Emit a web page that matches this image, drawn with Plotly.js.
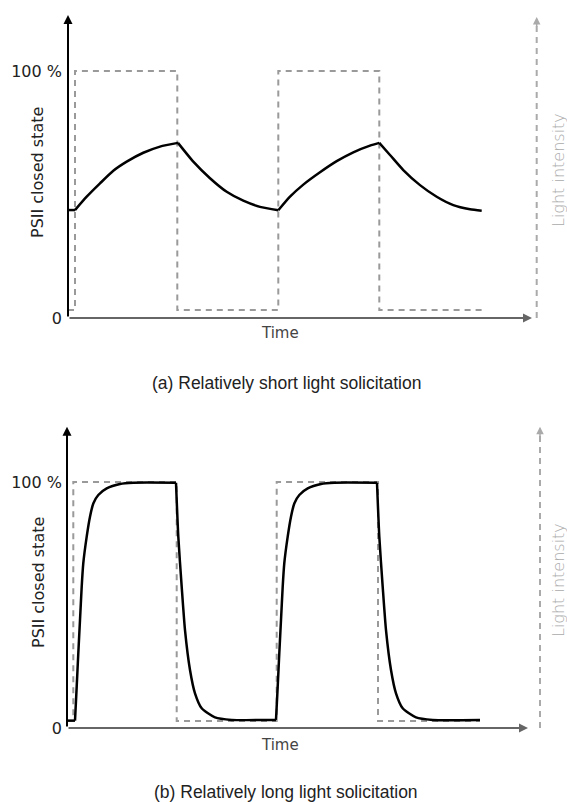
<!DOCTYPE html>
<html>
<head>
<meta charset="utf-8">
<script src="https://cdn.plot.ly/plotly-3.0.1.min.js"></script>
<style>html,body{margin:0;padding:0;background:#fff;}#chart{width:567px;height:802px;}</style>
</head>
<body>
<div id="chart"></div>
<script>
// (a) short light solicitation
var timeA  = [0, 0.07, 0.187, 0.32, 0.453, 0.587, 0.753, 0.92, 1.10, 1.253, 1.42, 1.587, 1.753, 1.92, 2.103, 2.22, 2.353, 2.52, 2.687, 2.853, 3.02, 3.113, 3.22, 3.353, 3.52, 3.687, 3.853, 4.02, 4.137];
var psiiA  = [43.7, 43.7, 49.1, 54.5, 59.6, 63.3, 66.9, 69.4, 70.9, 63.3, 56.6, 51.1, 47.5, 45.0, 43.6, 49.1, 54.0, 59.0, 63.5, 67.1, 69.8, 70.9, 66.0, 59.9, 53.8, 49.1, 45.7, 44.0, 43.4];
var lightTimeA = [0, 0.07, 0.07, 1.093, 1.093, 2.103, 2.103, 3.113, 3.113, 4.137];
var lightA     = [3.2, 3.2, 100, 100, 3.2, 3.2, 100, 100, 3.2, 3.2];
// indices where the curve changes phase (light switched)
var breaksA = [0, 1, 8, 14, 21, 28];

// (b) long light solicitation
var timeB  = [0, 0.07, 0.087, 0.103, 0.12, 0.137, 0.153, 0.187, 0.22, 0.253, 0.303, 0.387, 0.52, 0.653, 1.08, 1.103, 1.137, 1.17, 1.22, 1.27, 1.337, 1.47, 1.637, 2.08, 2.097, 2.113, 2.13, 2.147, 2.163, 2.197, 2.23, 2.263, 2.313, 2.397, 2.53, 2.663, 3.09, 3.113, 3.147, 3.18, 3.23, 3.28, 3.347, 3.48, 3.647, 4.12];
var psiiB  = [3.0, 3.0, 16.8, 30.4, 43.9, 57.4, 67.0, 77.8, 85.9, 91.3, 94.7, 97.4, 99.2, 99.7, 99.7, 77.8, 57.4, 39.8, 23.6, 14.1, 8.0, 4.3, 3.3, 3.3, 16.8, 30.4, 43.9, 57.4, 67.0, 77.8, 85.9, 91.3, 94.7, 97.4, 99.2, 99.7, 99.7, 77.8, 57.4, 39.8, 23.6, 14.1, 8.0, 4.3, 3.3, 3.3];
var lightTimeB = [0, 0.053, 0.053, 1.087, 1.087, 2.087, 2.087, 3.10, 3.10, 4.12];
var lightB     = [2.85, 2.85, 100, 100, 2.85, 2.85, 100, 100, 2.85, 2.85];
var breaksB = [0, 1, 14, 23, 36, 45];

var tickVals = [0, 100];
var tickText = ['0', '100 %'];
var yTitle = 'PSII closed state';
var xTitle = 'Time';
var rTitle = 'Light intensity';
var captionA = '(a) Relatively short light solicitation';
var captionB = '(b) Relatively long light solicitation';

var W = 567, H = 802;
function px(x){ return x / W; }
function py(y){ return 1 - y / H; }

var lightStyle = {color: '#9a9a9a', width: 2, dash: '6px,5px'};

var traces = [
  {x: lightTimeA, y: lightA, xaxis: 'x', yaxis: 'y', mode: 'lines', line: lightStyle, hoverinfo: 'skip'},
  {x: lightTimeB, y: lightB, xaxis: 'x', yaxis: 'y2', mode: 'lines', line: lightStyle, hoverinfo: 'skip'}
];

function addCurve(t, v, breaks, yaxis){
  for (var i = 0; i < breaks.length - 1; i++){
    var a = breaks[i], b = breaks[i + 1];
    traces.push({
      x: t.slice(a, b + 1), y: v.slice(a, b + 1), xaxis: 'x', yaxis: yaxis, mode: 'lines',
      line: {color: '#000', width: 2.5, shape: 'spline', smoothing: 0.6}, hoverinfo: 'skip'
    });
  }
}
addCurve(timeA, psiiA, breaksA, 'y');
addCurve(timeB, psiiB, breaksB, 'y2');

var yCommon = {
  anchor: 'free', position: 68 / W, showline: false, showgrid: false, zeroline: false,
  tickmode: 'array', tickvals: tickVals, ticktext: tickText, ticks: '',
  ticklabelstandoff: 6,
  tickfont: {family: 'DejaVu Sans', size: 16, color: '#222'}
};

var yA = Object.assign({}, yCommon, {domain: [py(340), py(0)], range: [-22 / 2.47, 318 / 2.47]});
var yB = Object.assign({}, yCommon, {domain: [py(750), py(410)], range: [-22 / 2.46, 318 / 2.46]});

function arrowAnn(yref, x, y, ax, ay, color, width, size){
  return {xref: 'x', yref: yref, axref: 'x', ayref: yref, x: x, y: y, ax: ax, ay: ay,
          text: '', showarrow: true, arrowhead: 2, arrowsize: size, arrowwidth: width, arrowcolor: color};
}

var annotations = [
  arrowAnn('y', 0, 122.7, 0, 0, '#000', 2, 0.9),
  arrowAnn('y', 4.64, 0, 0, 0, '#666', 2, 0.9),
  arrowAnn('y', 4.687, 121.9, 4.687, 117.5, '#aaa', 1.5, 1),
  arrowAnn('y2', -0.01, 122.5, -0.01, 0, '#000', 2, 0.9),
  arrowAnn('y2', 4.60, 0, -0.01, 0, '#666', 2, 0.9),
  arrowAnn('y2', 4.72, 122.5, 4.72, 118, '#aaa', 1.5, 1),
  {xref: 'paper', yref: 'paper', x: px(38), y: py(173), text: yTitle, showarrow: false, textangle: -90,
   xanchor: 'center', yanchor: 'middle', font: {family: 'DejaVu Sans', size: 16, color: '#222'}},
  {xref: 'paper', yref: 'paper', x: px(38), y: py(583), text: yTitle, showarrow: false, textangle: -90,
   xanchor: 'center', yanchor: 'middle', font: {family: 'DejaVu Sans', size: 16, color: '#222'}},
  {xref: 'paper', yref: 'paper', x: px(280), y: py(333), text: xTitle, showarrow: false,
   xanchor: 'center', yanchor: 'middle', font: {family: 'DejaVu Sans', size: 15, color: '#444'}},
  {xref: 'paper', yref: 'paper', x: px(280), y: py(745), text: xTitle, showarrow: false,
   xanchor: 'center', yanchor: 'middle', font: {family: 'DejaVu Sans', size: 15, color: '#444'}},
  {xref: 'paper', yref: 'paper', x: px(558), y: py(170), text: rTitle, showarrow: false, textangle: -90,
   xanchor: 'center', yanchor: 'middle', font: {family: 'DejaVu Sans', size: 16, color: '#aaa', weight: 200}},
  {xref: 'paper', yref: 'paper', x: px(558), y: py(580), text: rTitle, showarrow: false, textangle: -90,
   xanchor: 'center', yanchor: 'middle', font: {family: 'DejaVu Sans', size: 16, color: '#aaa', weight: 200}},
  {xref: 'paper', yref: 'paper', x: px(286), y: py(383), text: captionA, showarrow: false,
   xanchor: 'center', yanchor: 'middle', font: {family: 'Liberation Sans', size: 17.5, color: '#222'}},
  {xref: 'paper', yref: 'paper', x: px(286), y: py(792), text: captionB, showarrow: false,
   xanchor: 'center', yanchor: 'middle', font: {family: 'Liberation Sans', size: 17.5, color: '#222'}}
];

var shapes = [
  {type: 'line', xref: 'x', yref: 'y', x0: 4.687, x1: 4.687, y0: 0, y1: 119, line: {color: '#aaa', width: 2, dash: '6px,5px'}},
  {type: 'line', xref: 'x', yref: 'y2', x0: 4.72, x1: 4.72, y0: 0, y1: 119.5, line: {color: '#aaa', width: 2, dash: '6px,5px'}}
];

var layout = {
  width: W, height: H, autosize: false,
  margin: {l: 0, r: 0, t: 0, b: 0, pad: 0},
  paper_bgcolor: '#fff', plot_bgcolor: 'rgba(0,0,0,0)',
  showlegend: false,
  xaxis: {domain: [0, 1], range: [-0.68, (W - 68) / 100], visible: false, fixedrange: true},
  yaxis: yA,
  yaxis2: yB,
  annotations: annotations,
  shapes: shapes
};

Plotly.newPlot('chart', traces, layout, {staticPlot: true, displayModeBar: false});
</script>
</body>
</html>
